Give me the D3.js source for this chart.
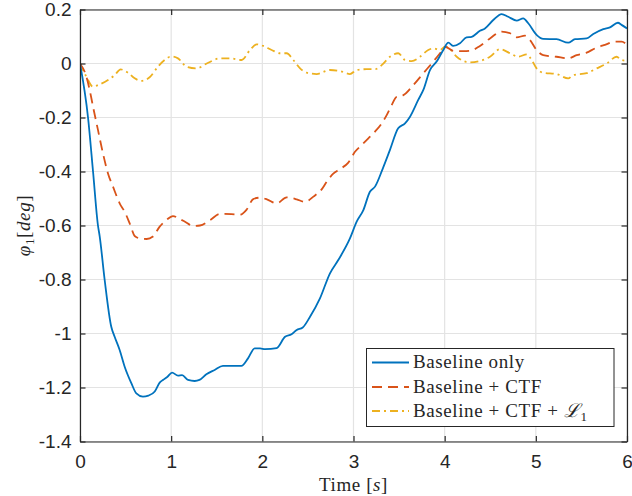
<!DOCTYPE html>
<html>
<head>
<meta charset="utf-8">
<script src="https://cdn.jsdelivr.net/npm/d3@7"></script>
<style>
  html, body { margin: 0; padding: 0; background: #fff; }
  svg { display: block; }
</style>
</head>
<body>
<svg id="chart" width="632" height="496"></svg>
<script>
// ---------------- data ----------------
const seriesNames = ["Baseline only", "Baseline + CTF", "Baseline + CTF + L1"];

const tBaseline = [0, 0.088, 0.143, 0.197, 0.216, 0.27, 0.343, 0.38, 0.435, 0.49, 0.563, 0.618, 0.69, 0.75, 0.82, 0.874, 0.91, 0.96, 1.01, 1.075, 1.12, 1.185, 1.258, 1.31, 1.386, 1.477, 1.568, 1.77, 1.843, 1.916, 1.975, 2.03, 2.157, 2.249, 2.32, 2.377, 2.443, 2.523, 2.632, 2.742, 2.833, 2.961, 3.035, 3.108, 3.18, 3.236, 3.32, 3.4, 3.49, 3.565, 3.62, 3.71, 3.766, 3.84, 3.912, 3.985, 4.04, 4.095, 4.168, 4.24, 4.296, 4.387, 4.442, 4.533, 4.625, 4.698, 4.79, 4.862, 4.917, 5.008, 5.081, 5.227, 5.355, 5.43, 5.557, 5.63, 5.74, 5.813, 5.9, 5.94, 6.0];
const vBaseline = [0, -0.2, -0.4, -0.6, -0.64, -0.80, -0.975, -1.012, -1.061, -1.123, -1.184, -1.222, -1.234, -1.23, -1.215, -1.182, -1.172, -1.16, -1.145, -1.156, -1.154, -1.172, -1.176, -1.172, -1.151, -1.135, -1.12, -1.12, -1.092, -1.055, -1.055, -1.058, -1.054, -1.012, -1.003, -0.987, -0.978, -0.938, -0.870, -0.777, -0.728, -0.648, -0.586, -0.543, -0.475, -0.456, -0.39, -0.32, -0.24, -0.222, -0.197, -0.135, -0.098, -0.024, 0.007, 0.05, 0.077, 0.065, 0.075, 0.097, 0.099, 0.121, 0.13, 0.161, 0.183, 0.173, 0.159, 0.167, 0.149, 0.106, 0.091, 0.09, 0.077, 0.09, 0.093, 0.109, 0.127, 0.134, 0.151, 0.143, 0.13];

const tCTF = [0, 0.07, 0.106, 0.143, 0.197, 0.252, 0.307, 0.362, 0.435, 0.49, 0.545, 0.603, 0.66, 0.731, 0.8, 0.874, 0.947, 1.02, 1.087, 1.152, 1.243, 1.316, 1.426, 1.536, 1.66, 1.755, 1.828, 1.9, 1.974, 2.05, 2.157, 2.267, 2.377, 2.468, 2.56, 2.651, 2.706, 2.778, 2.852, 2.943, 3.016, 3.09, 3.163, 3.236, 3.309, 3.364, 3.419, 3.473, 3.547, 3.656, 3.766, 3.875, 3.949, 4.004, 4.095, 4.205, 4.278, 4.387, 4.497, 4.625, 4.717, 4.79, 4.881, 4.936, 5.008, 5.081, 5.227, 5.355, 5.447, 5.557, 5.649, 5.758, 5.868, 5.94, 6.0];
const vCTF = [0, -0.049, -0.098, -0.16, -0.246, -0.333, -0.407, -0.456, -0.518, -0.549, -0.592, -0.640, -0.648, -0.65, -0.641, -0.604, -0.58, -0.565, -0.575, -0.586, -0.602, -0.600, -0.58, -0.557, -0.558, -0.56, -0.541, -0.502, -0.497, -0.503, -0.518, -0.496, -0.503, -0.513, -0.493, -0.466, -0.438, -0.408, -0.391, -0.367, -0.327, -0.302, -0.277, -0.252, -0.222, -0.191, -0.154, -0.123, -0.117, -0.08, -0.036, 0.007, 0.038, 0.062, 0.047, 0.046, 0.047, 0.065, 0.093, 0.118, 0.112, 0.097, 0.103, 0.087, 0.05, 0.031, 0.025, 0.019, 0.031, 0.04, 0.056, 0.069, 0.081, 0.081, 0.069];

const tL1 = [0, 0.07, 0.143, 0.197, 0.307, 0.38, 0.446, 0.526, 0.6, 0.672, 0.764, 0.855, 0.929, 1.0, 1.075, 1.17, 1.28, 1.39, 1.536, 1.645, 1.773, 1.865, 1.938, 2.01, 2.102, 2.194, 2.267, 2.34, 2.414, 2.486, 2.596, 2.742, 2.852, 2.961, 3.035, 3.145, 3.236, 3.309, 3.4, 3.491, 3.565, 3.638, 3.729, 3.82, 3.875, 3.949, 4.004, 4.058, 4.132, 4.278, 4.387, 4.497, 4.607, 4.717, 4.808, 4.9, 4.954, 5.008, 5.081, 5.227, 5.355, 5.41, 5.557, 5.667, 5.777, 5.886, 5.94, 6.0];
const vL1 = [0, -0.049, -0.086, -0.08, -0.061, -0.043, -0.022, -0.034, -0.055, -0.064, -0.051, -0.012, 0.013, 0.026, 0.019, -0.012, -0.018, 0, 0.019, 0.019, 0.013, 0.05, 0.071, 0.065, 0.05, 0.038, 0.038, 0.013, -0.018, -0.034, -0.039, -0.024, -0.028, -0.039, -0.024, -0.021, -0.021, -0.006, 0.025, 0.038, 0.013, 0.009, 0.025, 0.05, 0.056, 0.05, 0.062, 0.054, 0.025, 0.004, 0.009, 0.025, 0.053, 0.038, 0.025, 0.034, 0.013, -0.018, -0.034, -0.039, -0.055, -0.043, -0.036, -0.018, 0, 0.025, 0.013, 0.01];

const xTicks = [0, 1, 2, 3, 4, 5, 6];
const yTicks = [0.2, 0, -0.2, -0.4, -0.6, -0.8, -1, -1.2, -1.4];

// ---------------- layout ----------------
const svg = d3.select("#chart");
const L = 80, T = 9.5, R = 627, B = 441.5;
const colors = ["#0072BD", "#D95319", "#EDB120"];
const dashes = [null, "10,6", "8,4,2,4"];
const axisColor = "#262626";
const tickFont = "'Liberation Sans', Arial, Helvetica, sans-serif";
const serif = "'Liberation Serif', 'Times New Roman', serif";

const x = d3.scaleLinear().domain([0, 6]).range([L, R]);
const y = d3.scaleLinear().domain([-1.4, 0.2]).range([B, T]);

// background
svg.append("rect").attr("x", L).attr("y", T).attr("width", R - L).attr("height", B - T).attr("fill", "#fff");

// grid
const grid = svg.append("g").attr("stroke", "#e3e3e3").attr("stroke-width", 1.2);
xTicks.forEach(t => {
  grid.append("line").attr("x1", x(t)).attr("x2", x(t)).attr("y1", T).attr("y2", B);
});
yTicks.forEach(t => {
  grid.append("line").attr("x1", L).attr("x2", R).attr("y1", y(t)).attr("y2", y(t));
});

// lines
const line = d3.line().x(d => x(d[0])).y(d => y(d[1])).curve(d3.curveMonotoneX);
const data = [
  d3.zip(tBaseline, vBaseline),
  d3.zip(tCTF, vCTF),
  d3.zip(tL1, vL1)
];
svg.append("clipPath").attr("id", "clip").append("rect")
  .attr("x", L).attr("y", T).attr("width", R - L).attr("height", B - T);
[2, 1, 0].forEach(i => {
  svg.append("path")
    .attr("d", line(data[i]))
    .attr("fill", "none")
    .attr("stroke", colors[i])
    .attr("stroke-width", 1.8)
    .attr("stroke-dasharray", dashes[i])
    .attr("stroke-linejoin", "round")
    .attr("clip-path", "url(#clip)");
});

// axes (box with inward ticks on all sides)
const fmt = d => d === 0 ? "0" : String(+d.toFixed(1));
const axB = d3.axisBottom(x).tickValues(xTicks).tickSizeInner(-5.5).tickSizeOuter(0).tickPadding(13.5).tickFormat(fmt);
const axT = d3.axisTop(x).tickValues(xTicks).tickSizeInner(-5.5).tickSizeOuter(0).tickFormat("");
const axL = d3.axisLeft(y).tickValues(yTicks).tickSizeInner(-5.5).tickSizeOuter(0).tickPadding(8.5).tickFormat(fmt);
const axR = d3.axisRight(y).tickValues(yTicks).tickSizeInner(-5.5).tickSizeOuter(0).tickFormat("");

function style(g) {
  g.selectAll("path.domain").attr("stroke", axisColor).attr("stroke-width", 1.2);
  g.selectAll(".tick line").attr("stroke", axisColor).attr("stroke-width", 1.2);
  g.selectAll(".tick text").attr("fill", axisColor).style("font-family", tickFont).style("font-size", "19px");
}
svg.append("g").attr("transform", `translate(0,${B})`).call(axB).call(style);
svg.append("g").attr("transform", `translate(0,${T})`).call(axT).call(style);
svg.append("g").attr("transform", `translate(${L},0)`).call(axL).call(style);
svg.append("g").attr("transform", `translate(${R},0)`).call(axR).call(style);

// axis labels
const xl = svg.append("text").attr("x", (L + R) / 2).attr("y", 491).attr("text-anchor", "middle")
  .style("font-family", serif).style("font-size", "19px").style("letter-spacing", "0.6px").attr("fill", axisColor);
xl.append("tspan").text("Time [");
xl.append("tspan").style("font-style", "italic").text("s");
xl.append("tspan").text("]");

const yl = svg.append("text").attr("transform", `translate(30,${(T + B) / 2}) rotate(-90)`)
  .attr("text-anchor", "middle").style("font-family", serif).style("font-size", "19px").style("letter-spacing", "0.6px").attr("fill", axisColor);
yl.append("tspan").style("font-style", "italic").text("φ");
yl.append("tspan").attr("dy", 4).style("font-size", "13px").text("1");
yl.append("tspan").attr("dy", -4).text("[");
yl.append("tspan").style("font-style", "italic").text("deg");
yl.append("tspan").text("]");

// legend
const lg = svg.append("g");
lg.append("rect").attr("x", 366.5).attr("y", 348.5).attr("width", 247.5).attr("height", 78)
  .attr("fill", "#fff").attr("stroke", axisColor).attr("stroke-width", 1);
const rowsY = [362.5, 387, 411];
seriesNames.forEach((name, i) => {
  lg.append("line").attr("x1", 372).attr("x2", 409).attr("y1", rowsY[i]).attr("y2", rowsY[i])
    .attr("stroke", colors[i]).attr("stroke-width", 1.8).attr("stroke-dasharray", dashes[i]);
  const tx = lg.append("text").attr("x", 413).attr("y", rowsY[i] + 5.5)
    .style("font-family", serif).style("font-size", "19px").style("letter-spacing", "0.6px").attr("fill", axisColor);
  if (i < 2) {
    tx.text(name);
  } else {
    tx.append("tspan").text("Baseline + CTF + ");
    tx.append("tspan").style("font-style", "italic").text("ℒ");
    tx.append("tspan").attr("dy", 4).style("font-size", "13px").text("1");
  }
});
</script>
</body>
</html>
